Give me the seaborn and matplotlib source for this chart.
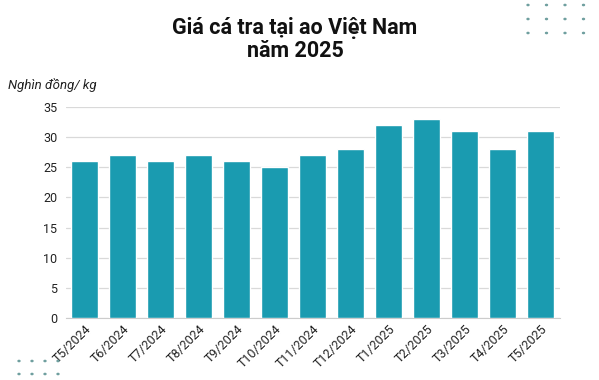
import matplotlib
matplotlib.use("Agg")
import matplotlib.pyplot as plt
import seaborn as sns
import pandas as pd

months = ["T5/2024", "T6/2024", "T7/2024", "T8/2024", "T9/2024", "T10/2024",
          "T11/2024", "T12/2024", "T1/2025", "T2/2025", "T3/2025", "T4/2025", "T5/2025"]
prices = [26, 27, 26, 27, 26, 25, 27, 28, 32, 33, 31, 28, 31]
yticks = [0, 5, 10, 15, 20, 25, 30, 35]

sns.set_style("white")
plt.rcParams['font.family'] = ['Roboto', 'DejaVu Sans']

df = pd.DataFrame({"month": months, "price": prices})

fig = plt.figure(figsize=(5.99, 3.8), dpi=100)
ax = fig.add_axes([65.5/599, 1-318/380, (559.5-65.5)/599, (318-107)/380])
sns.barplot(data=df, x="month", y="price", color="#1a9bb0", saturation=1, width=0.72, ax=ax, zorder=3)
ax.set_ylim(0, 35)
ax.set_xlim(-0.5, len(months)-0.5)
ax.set_yticks(yticks)
ax.yaxis.grid(True, color="#d9d9d9", linewidth=0.9, zorder=0)
ax.set_axisbelow(True)
for s in ["top", "right", "left"]:
    ax.spines[s].set_visible(False)
ax.spines["bottom"].set_color("#cccccc")
ax.set_xlabel("")
ax.set_ylabel("")
ax.tick_params(axis="both", length=0, labelsize=9, colors="#222222")
ax.tick_params(axis="y", pad=6)
plt.setp(ax.get_xticklabels(), rotation=45, ha="right", rotation_mode="anchor")

fig.text(295/599, 1-28/380, "Giá cá tra tại ao Việt Nam", ha="center", va="center",
         fontsize=15.5, fontweight="bold", color="#111111")
fig.text(295/599, 1-51/380, "năm 2025", ha="center", va="center",
         fontsize=15.5, fontweight="bold", color="#111111")
fig.text(8/599, 1-85/380, "Nghìn đồng/ kg", ha="left", va="center",
         fontsize=9.5, style="italic", color="#222222")

# decorative dots
for r in range(3):
    for c in range(4):
        fig.patches.append(plt.Circle(((528 + c*18.5)/599, 1-(5 + r*14)/380), 0.0016,
                                      transform=fig.transFigure, color="#6f9f9f", zorder=5))
for r in range(2):
    for c in range(4):
        fig.patches.append(plt.Circle(((19 + c*13)/599, 1-(361 + r*13)/380), 0.0016,
                                      transform=fig.transFigure, color="#6f9f9f", zorder=5))

fig.savefig("out.png", dpi=100)
